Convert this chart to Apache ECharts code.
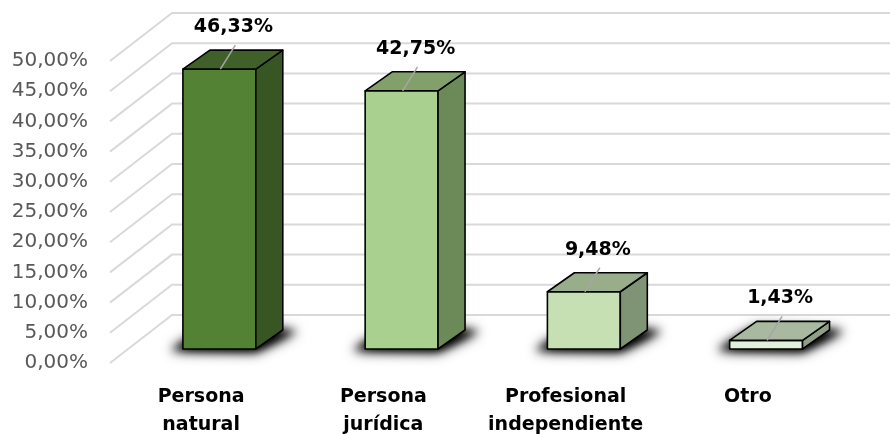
<!DOCTYPE html>
<html>
<head>
<meta charset="utf-8">
<script src="https://cdn.jsdelivr.net/npm/echarts@6/dist/echarts.min.js"></script>
<style>
  html, body { margin: 0; padding: 0; background: #ffffff; }
  #chart { width: 890px; height: 434px; }
</style>
</head>
<body>
<div id="chart"></div>
<script>
// Categories and their shares (%)
const categories = ['Persona\nnatural', 'Persona\njurídica', 'Profesional\nindependiente', 'Otro'];
const shares = [46.33, 42.75, 9.48, 1.43];
// Value axis ticks (%)
const yTicks = [0, 5, 10, 15, 20, 25, 30, 35, 40, 45, 50];
// Box face colours per category
const frontColors = ['#548235', '#a9d08e', '#c6e0b4', '#e2efda'];
const topColors = ['#3f6129', '#82a16a', '#98ad89', '#a9b9a0'];
const sideColors = ['#375623', '#6b8a58', '#7f9474', '#8e9f86'];

const fmtPct = v => v.toFixed(2).replace('.', ',') + '%';

// Depth of the side wall / back wall
const WALL_DX = 62, WALL_DY = -48;
// The shadow caster is drawn far above the canvas; only its blurred shadow lands on the floor
const SHADOW_HOP = 3000;

function renderWall(params, api) {
  const cs = params.coordSys;
  const y = api.coord([0, api.value(1)])[1];
  return {
    type: 'polyline',
    shape: {
      points: [[cs.x, y], [cs.x + WALL_DX, y + WALL_DY], [cs.x + cs.width + 200, y + WALL_DY]]
    },
    style: { stroke: '#d9d9d9', lineWidth: 2, fill: null }
  };
}

function renderBar(params, api) {
  const i = api.value(0);
  const v = api.value(1);
  const top = api.coord([i, v]);
  const base = api.coord([i, 0]);
  const band = api.size([1, 0])[0];
  const w = band * 0.4;
  const shift = band * 0.1;
  const lift = 14;
  const dx = 27, dy = -19;
  const x1 = top[0] + shift - w / 2;
  const x2 = x1 + w;
  const yt = top[1] - lift;
  const yb = base[1] - lift;
  const edge = { stroke: '#000000', lineWidth: 1.6, lineJoin: 'round' };
  const mid = x1 + w / 2;
  const footprint = [
    [x1 - 12, yb + 1], [x2, yb + 2], [x2 + dx + 14, yb + dy + 1], [x1 + dx, yb + dy - 2]
  ].map(p => [p[0], p[1] - SHADOW_HOP]);
  const shadowCaster = blur => ({
    type: 'polygon',
    shape: { points: footprint },
    style: { fill: '#000000', shadowBlur: blur, shadowColor: 'rgba(0,0,0,1)', shadowOffsetX: 0, shadowOffsetY: SHADOW_HOP }
  });
  return {
    type: 'group',
    children: [
      shadowCaster(8),
      shadowCaster(14),
      {
        type: 'polygon',
        shape: { points: [[x1, yt], [x2, yt], [x2, yb], [x1, yb]] },
        style: Object.assign({ fill: frontColors[i] }, edge)
      },
      {
        type: 'polygon',
        shape: { points: [[x2, yt], [x2 + dx, yt + dy], [x2 + dx, yb + dy], [x2, yb]] },
        style: Object.assign({ fill: sideColors[i] }, edge)
      },
      {
        type: 'polygon',
        shape: { points: [[x1, yt], [x2, yt], [x2 + dx, yt + dy], [x1 + dx, yt + dy]] },
        style: Object.assign({ fill: topColors[i] }, edge)
      },
      {
        type: 'line',
        shape: { x1: mid + 1, y1: yt, x2: mid + 16, y2: yt - 24 },
        style: { stroke: '#a6a6a6', lineWidth: 1.5 }
      },
      {
        type: 'text',
        x: mid + 14,
        y: yt - 42,
        style: {
          text: fmtPct(v),
          fill: '#000000',
          font: 'bold 19px "DejaVu Sans"',
          align: 'center',
          verticalAlign: 'middle'
        }
      }
    ]
  };
}

const chart = echarts.init(document.getElementById('chart'), null, { renderer: 'canvas' });
chart.setOption({
  animation: false,
  backgroundColor: '#ffffff',
  grid: { left: 110, right: 51, top: 61, bottom: 71, containLabel: false, outerBoundsMode: 'none' },
  xAxis: {
    type: 'category',
    data: categories,
    axisLine: { show: false },
    axisTick: { show: false },
    splitLine: { show: false },
    axisLabel: {
      interval: 0,
      margin: 20,
      color: '#000000',
      fontFamily: 'DejaVu Sans',
      fontWeight: 'bold',
      fontSize: 19,
      lineHeight: 28
    }
  },
  yAxis: {
    type: 'value',
    min: 0,
    max: 50,
    interval: 5,
    axisLine: { show: false },
    axisTick: { show: false },
    splitLine: { show: false },
    axisLabel: {
      margin: 22,
      color: '#595959',
      fontFamily: 'DejaVu Sans',
      fontSize: 20,
      formatter: v => fmtPct(v)
    }
  },
  series: [
    {
      type: 'custom',
      silent: true,
      renderItem: renderWall,
      encode: { x: 0, y: 1 },
      data: yTicks.map(t => [0, t]),
      z: 1
    },
    {
      type: 'custom',
      renderItem: renderBar,
      encode: { x: 0, y: 1 },
      data: shares.map((s, i) => [i, s]),
      z: 2
    }
  ]
});
</script>
</body>
</html>
